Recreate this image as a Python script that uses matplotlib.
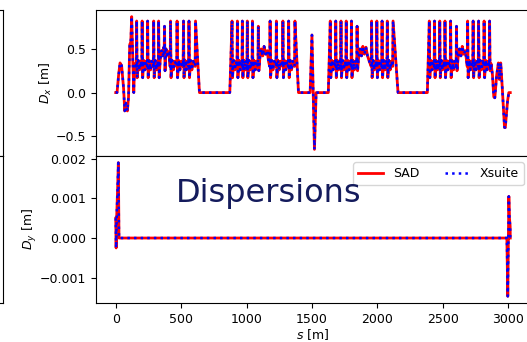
import matplotlib
matplotlib.use('Agg')
import matplotlib.pyplot as plt
import numpy as np

# horizontal dispersion D_x [m] along s [m]
start_s = [0, 10, 22, 33, 45, 60, 69, 78, 89, 98, 107, 115, 122, 130, 138]
start_dx = [0.0, 0.0, 0.20, 0.34, 0.31, 0.05, -0.21, -0.12, -0.21, -0.05, 0.55, 0.58, 0.87, 0.40, 0.0]

arc1_s = [144, 157, 160, 164, 172, 182, 192,
          199, 202, 206, 214, 224, 234,
          241, 244, 248, 256, 266, 276,
          287, 290, 294, 302, 312, 320,
          325, 328, 332, 340, 350, 360, 368,
          370, 373, 377, 385, 395, 405,
          416, 419, 423, 431, 441, 451,
          466, 469, 473, 481, 491, 501,
          515, 518, 522, 530, 540, 550,
          557, 560, 564, 572, 582, 592,
          607, 610, 640]
arc1_dx = [0.33, 0.30, 0.82, 0.17, 0.37, 0.26, 0.36,
           0.30, 0.82, 0.17, 0.37, 0.26, 0.36,
           0.30, 0.82, 0.17, 0.37, 0.26, 0.36,
           0.30, 0.82, 0.17, 0.37, 0.26, 0.36,
           0.30, 0.82, 0.17, 0.37, 0.48, 0.42, 0.52,
           0.45, 0.76, 0.25, 0.50, 0.43, 0.47,
           0.30, 0.82, 0.17, 0.37, 0.26, 0.36,
           0.30, 0.82, 0.17, 0.37, 0.26, 0.36,
           0.30, 0.82, 0.17, 0.37, 0.26, 0.36,
           0.30, 0.82, 0.17, 0.37, 0.26, 0.36,
           0.30, 0.82, 0.0]

arc2_s = [872, 889, 893, 901, 911, 921,
          927, 930, 934, 942, 952, 960,
          965, 968, 972, 980, 990, 998,
          1003, 1006, 1010, 1018, 1028, 1036,
          1042, 1045, 1049, 1057, 1067, 1077,
          1087, 1090, 1094, 1102, 1112, 1124, 1134, 1146, 1158, 1168,
          1177, 1180, 1184, 1192, 1202, 1212,
          1225, 1228, 1232, 1240, 1250, 1260,
          1275, 1278, 1282, 1290, 1300, 1310,
          1319, 1322, 1326, 1334, 1344, 1354,
          1367, 1370, 1397]
arc2_dx = [0.0, 0.82, 0.17, 0.37, 0.26, 0.36,
           0.30, 0.82, 0.17, 0.37, 0.26, 0.36,
           0.30, 0.82, 0.17, 0.37, 0.26, 0.36,
           0.30, 0.82, 0.17, 0.37, 0.26, 0.36,
           0.30, 0.82, 0.17, 0.37, 0.26, 0.36,
           0.30, 0.76, 0.25, 0.40, 0.50, 0.42, 0.53, 0.44, 0.48, 0.36,
           0.30, 0.82, 0.17, 0.37, 0.26, 0.36,
           0.30, 0.82, 0.17, 0.37, 0.26, 0.36,
           0.30, 0.82, 0.17, 0.37, 0.26, 0.36,
           0.30, 0.82, 0.17, 0.37, 0.26, 0.36,
           0.30, 0.82, 0.0]

mid_s = [1486, 1500, 1519, 1532, 1614]
mid_dx = [0.0, 0.66, -0.65, 0.0, 0.0]

arc3_s = [1625, 1640, 1644, 1652, 1662, 1672,
          1679, 1682, 1686, 1694, 1704, 1714,
          1719, 1722, 1726, 1734, 1744, 1754,
          1759, 1762, 1766, 1774, 1784, 1794,
          1799, 1802, 1806, 1814, 1824, 1834,
          1842, 1845, 1849, 1857, 1867, 1879, 1889, 1901, 1913, 1925, 1940,
          1953, 1956, 1960, 1968, 1978, 1988,
          1993, 1996, 2000, 2008, 2018, 2028,
          2033, 2036, 2040, 2048, 2058, 2068,
          2073, 2076, 2080, 2088, 2098, 2108,
          2117, 2120, 2158]
arc3_dx = [0.0, 0.82, 0.17, 0.37, 0.26, 0.36,
           0.30, 0.82, 0.17, 0.37, 0.26, 0.36,
           0.30, 0.82, 0.17, 0.37, 0.26, 0.36,
           0.30, 0.82, 0.17, 0.37, 0.26, 0.36,
           0.30, 0.82, 0.17, 0.37, 0.26, 0.36,
           0.30, 0.76, 0.25, 0.40, 0.50, 0.42, 0.53, 0.44, 0.52, 0.42, 0.35,
           0.30, 0.82, 0.17, 0.37, 0.26, 0.36,
           0.30, 0.82, 0.17, 0.37, 0.26, 0.36,
           0.30, 0.82, 0.17, 0.37, 0.26, 0.36,
           0.30, 0.82, 0.17, 0.37, 0.26, 0.36,
           0.30, 0.82, 0.0]

arc4_s = [2382, 2397, 2401, 2409, 2419, 2429,
          2434, 2437, 2441, 2449, 2459, 2469,
          2474, 2477, 2481, 2489, 2499, 2509,
          2514, 2517, 2521, 2529, 2539, 2549,
          2557, 2560, 2564, 2572, 2582, 2592,
          2602, 2605, 2609, 2617, 2627, 2639, 2649, 2661, 2673, 2682,
          2687, 2690, 2694, 2702, 2712, 2722,
          2729, 2732, 2736, 2744, 2754, 2764,
          2771, 2774, 2778, 2786, 2796, 2806,
          2813, 2816, 2820, 2828, 2838, 2848,
          2855, 2858]
arc4_dx = [0.0, 0.82, 0.17, 0.37, 0.26, 0.36,
           0.30, 0.82, 0.17, 0.37, 0.26, 0.36,
           0.30, 0.82, 0.17, 0.37, 0.26, 0.36,
           0.30, 0.82, 0.17, 0.37, 0.26, 0.36,
           0.30, 0.82, 0.17, 0.37, 0.26, 0.36,
           0.30, 0.76, 0.25, 0.40, 0.50, 0.42, 0.53, 0.44, 0.48, 0.36,
           0.30, 0.82, 0.17, 0.37, 0.26, 0.36,
           0.30, 0.82, 0.17, 0.37, 0.26, 0.36,
           0.30, 0.82, 0.17, 0.37, 0.26, 0.36,
           0.30, 0.82, 0.17, 0.37, 0.26, 0.36,
           0.30, 0.82]

end_s = [2862, 2870, 2880, 2890, 2898, 2912, 2925, 2933, 2943, 2955, 2972, 2978, 2995, 3005, 3016]
end_dx = [0.25, 0.33, 0.20, -0.05, -0.06, 0.20, 0.34, 0.15, 0.34, 0.05, -0.40, -0.40, -0.10, 0.0, 0.0]

# vertical dispersion D_y [m]
dy_s = [0, 3, 8, 14, 20, 25, 40, 2990, 2997, 3005, 3010, 3015, 3016]
dy_vals = [0.0005, -0.00025, 0.0006, 0.0012, 0.0019, 0.0, 0.0, 0.0, -0.00147, 0.00105, 0.0005, 0.0003, 0.0]

s_dx = start_s + arc1_s + arc2_s + mid_s + arc3_s + arc4_s + end_s
dx_vals = start_dx + arc1_dx + arc2_dx + mid_dx + arc3_dx + arc4_dx + end_dx

plt.rcParams['font.size'] = 9

W, H = 527, 342
fig = plt.figure(figsize=(5.27, 3.42), dpi=100)

ax1 = fig.add_axes([96 / W, 1 - 156 / H, (530 - 96) / W, 146 / H])
ax2 = fig.add_axes([96 / W, 1 - 303 / H, (530 - 96) / W, 147 / H], sharex=ax1)

# neighbouring panel edges visible at the left border
for y0, h in [(1 - 156 / H, 146 / H), (1 - 303 / H, 147 / H)]:
    axl = fig.add_axes([-0.6, y0, 0.6 + 3 / W, h])
    axl.set_xticks([])
    axl.set_yticks([])

ax1.plot(s_dx, dx_vals, color='red', lw=2, label='SAD')
ax1.plot(s_dx, dx_vals, color='blue', lw=1.8, ls=':', label='Xsuite')
ax2.plot(dy_s, dy_vals, color='red', lw=2, label='SAD')
ax2.plot(dy_s, dy_vals, color='blue', lw=1.8, ls=':', label='Xsuite')

ax1.set_ylabel(r'$D_x$ [m]', labelpad=1)
ax2.set_ylabel(r'$D_y$ [m]', labelpad=1)
ax2.set_xlabel(r'$s$ [m]', labelpad=1)
ax1.tick_params(labelbottom=False)
ax2.legend(loc='upper right', ncol=2, fontsize=9)

fig.text(176 / W, 1 - 202 / H, 'Dispersions', fontsize=23, color='#141b5c',
         family='DejaVu Sans')

fig.savefig('out.png', dpi=100)
